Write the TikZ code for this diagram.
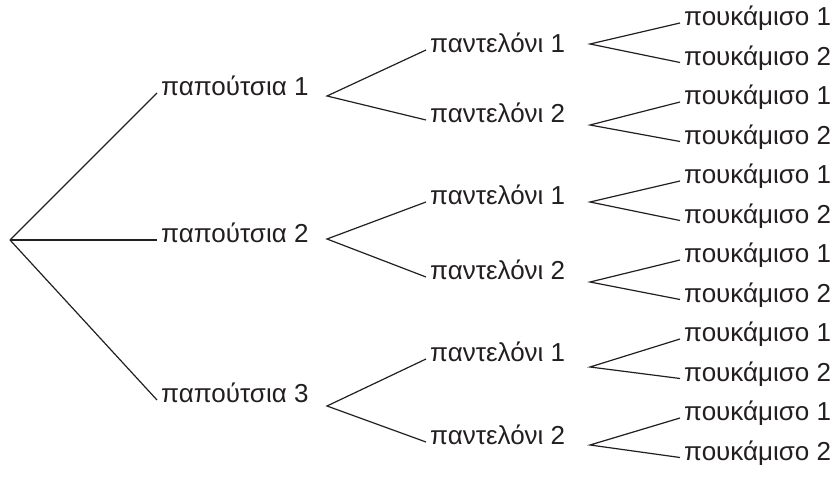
\documentclass[tikz,border=0pt]{standalone}
\usepackage{fontspec}
\setmainfont{Liberation Sans}
\usetikzlibrary{positioning}
\definecolor{ink}{RGB}{35,31,32}
\tikzset{
  item/.style={anchor=mid west, inner sep=4pt, text=ink, font=\fontsize{26}{30}\selectfont},
  branch/.style={draw=ink, line width=1.2pt}
}

\begin{document}
\begin{tikzpicture}[x=1pt, y=-1pt]
  \useasboundingbox (0,0) rectangle (839,478);
  \coordinate (root) at (10,240);
  % shoes
  \node[item] (shoe1) at (157,93) {παπούτσια 1};
  \node[item] (shoe2) at (157,240) {παπούτσια 2};
  \node[item] (shoe3) at (157,400) {παπούτσια 3};
  \draw[branch] (root) -- (shoe1.mid west);
  \draw[branch] (root) -- (shoe2.mid west);
  \draw[branch] (root) -- (shoe3.mid west);
  %
  % trousers, two for each pair of shoes
  \foreach \j/\y/\k in {1/50/1, 2/120/2, 3/202/1, 4/277/2, 5/359/1, 6/442/2}
    \node[item] (pants\j) at (426,\y) {παντελόνι \k};
  \foreach \i/\y in {1/96, 2/239, 3/406}{
    \pgfmathtruncatemacro\up{2*\i-1}
    \pgfmathtruncatemacro\dn{2*\i}
    \coordinate (fs\i) at (327,\y);
    \draw[branch] (pants\up.mid west) -- (fs\i) -- (pants\dn.mid west);
  }
  %
  % shirts, two for each pair of trousers
  \foreach \i in {1,...,12}{
    \pgfmathtruncatemacro\k{2-mod(\i,2)}
    \node[item] (shirt\i) at (680,{23+39.5*(\i-1)}) {πουκάμισο \k};
  }
  \foreach \j/\y in {1/44, 2/125, 3/202, 4/282, 5/367, 6/445}{
    \pgfmathtruncatemacro\up{2*\j-1}
    \pgfmathtruncatemacro\dn{2*\j}
    \coordinate (fp\j) at (590,\y);
    \draw[branch] (shirt\up.mid west) -- (fp\j) -- (shirt\dn.mid west);
  }
\end{tikzpicture}
\end{document}
